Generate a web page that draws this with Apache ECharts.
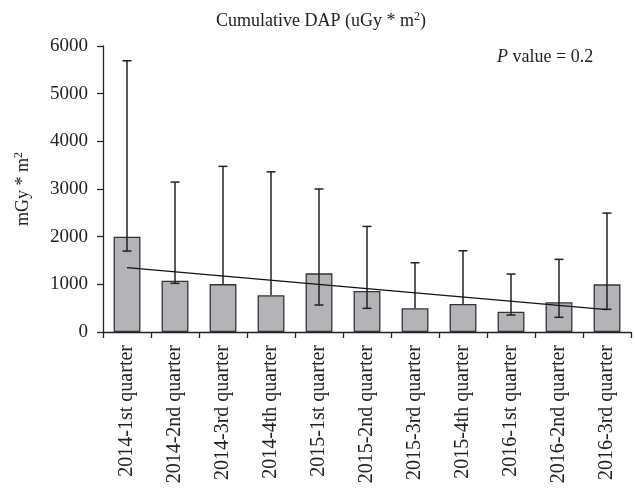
<!DOCTYPE html>
<html>
<head>
<meta charset="utf-8">
<script src="https://cdn.jsdelivr.net/npm/echarts@6/dist/echarts.min.js"></script>
<style>
  html, body { margin: 0; padding: 0; background: #fff; }
  #chart { width: 635px; height: 496px; }
</style>
</head>
<body>
<div id="chart"></div>
<script>
// quarters on the x axis
const quarters = [
  '2014-1st quarter', '2014-2nd quarter', '2014-3rd quarter', '2014-4th quarter',
  '2015-1st quarter', '2015-2nd quarter', '2015-3rd quarter', '2015-4th quarter',
  '2016-1st quarter', '2016-2nd quarter', '2016-3rd quarter'
];
// mean cumulative DAP per quarter
const meanDap = [2000, 1075, 1005, 770, 1230, 860, 497, 587, 426, 623, 1000];
// error bar ends (null = no lower whisker drawn)
const errHigh = [5690, 3145, 3475, 3360, 3000, 2215, 1453, 1704, 1216, 1524, 2495];
const errLow = [1698, 1021, null, null, 566, 497, null, null, 356, 308, 476];
// linear trend end points [category index, value]
const trendPts = [[0, 1350], [10, 470]];

const serif = '"Liberation Serif", "DejaVu Serif", serif';

let chartDom = document.getElementById('chart');
let myChart = echarts.init(chartDom);

let errData = quarters.map((q, i) => [i, errLow[i] == null ? meanDap[i] : errLow[i], errHigh[i]]);

let option = {
  animation: false,
  title: {
    text: '{a|Cumulative DAP (uGy * m}{s|2}{a|)}',
    left: 316,
    top: 6,
    textAlign: 'center',
    textStyle: {
      rich: {
        a: { fontFamily: serif, fontSize: 18, fontWeight: 'normal', color: '#222' },
        s: { fontFamily: serif, fontSize: 12, fontWeight: 'normal', color: '#222', verticalAlign: 'top', padding: [0, 0, 8, 0] }
      }
    }
  },
  graphic: [{
    type: 'text',
    left: 497,
    top: 48,
    style: {
      text: '{i|P}{a| value = 0.2}',
      rich: {
        i: { fontFamily: serif, fontSize: 18, fontStyle: 'italic', fill: '#222' },
        a: { fontFamily: serif, fontSize: 18, fill: '#222' }
      }
    }
  }],
  grid: { left: 103, right: 4, top: 46, bottom: 164 },
  xAxis: {
    type: 'category',
    data: quarters,
    axisLine: { lineStyle: { color: '#222', width: 1.3 } },
    axisTick: { show: true, length: 6, lineStyle: { color: '#222', width: 1.3 } },
    axisLabel: {
      rotate: 90,
      interval: 0,
      margin: 13,
      fontFamily: serif,
      fontSize: 20,
      color: '#222'
    }
  },
  yAxis: {
    type: 'value',
    min: 0,
    max: 6000,
    interval: 1000,
    name: '{a|mGy * m}{s|2}',
    nameLocation: 'middle',
    nameRotate: 90,
    nameGap: 70,
    nameTextStyle: {
      rich: {
        a: { fontFamily: serif, fontSize: 18, color: '#222' },
        s: { fontFamily: serif, fontSize: 12, color: '#222', verticalAlign: 'top', padding: [0, 0, 8, 0] }
      }
    },
    axisLine: { show: true, lineStyle: { color: '#222', width: 1.3 } },
    axisTick: { show: true, length: 6, lineStyle: { color: '#222', width: 1.3 } },
    splitLine: { show: false },
    axisLabel: {
      margin: 15,
      fontFamily: serif,
      fontSize: 19,
      color: '#222',
      formatter: function (v) { return String(v); }
    }
  },
  series: [
    {
      name: 'DAP',
      type: 'bar',
      data: meanDap,
      barWidth: '56%',
      itemStyle: { color: '#b4b4b8', borderColor: '#333', borderWidth: 1.3 },
      z: 2
    },
    {
      name: 'error',
      type: 'custom',
      data: errData,
      z: 3,
      renderItem: function (params, api) {
        let x = api.value(0);
        let low = api.coord([x, api.value(1)]);
        let high = api.coord([x, api.value(2)]);
        let half = 4.5;
        let style = { stroke: '#222', lineWidth: 1.5 };
        let children = [
          { type: 'line', shape: { x1: high[0], y1: high[1], x2: low[0], y2: low[1] }, style: style },
          { type: 'line', shape: { x1: high[0] - half, y1: high[1], x2: high[0] + half, y2: high[1] }, style: style }
        ];
        if (errLow[params.dataIndex] != null) {
          children.push({ type: 'line', shape: { x1: low[0] - half, y1: low[1], x2: low[0] + half, y2: low[1] }, style: style });
        }
        return { type: 'group', children: children };
      }
    },
    {
      name: 'trend',
      type: 'line',
      data: trendPts,
      symbol: 'none',
      lineStyle: { color: '#111', width: 1.2 },
      z: 4
    }
  ]
};
myChart.setOption(option);
</script>
</body>
</html>
